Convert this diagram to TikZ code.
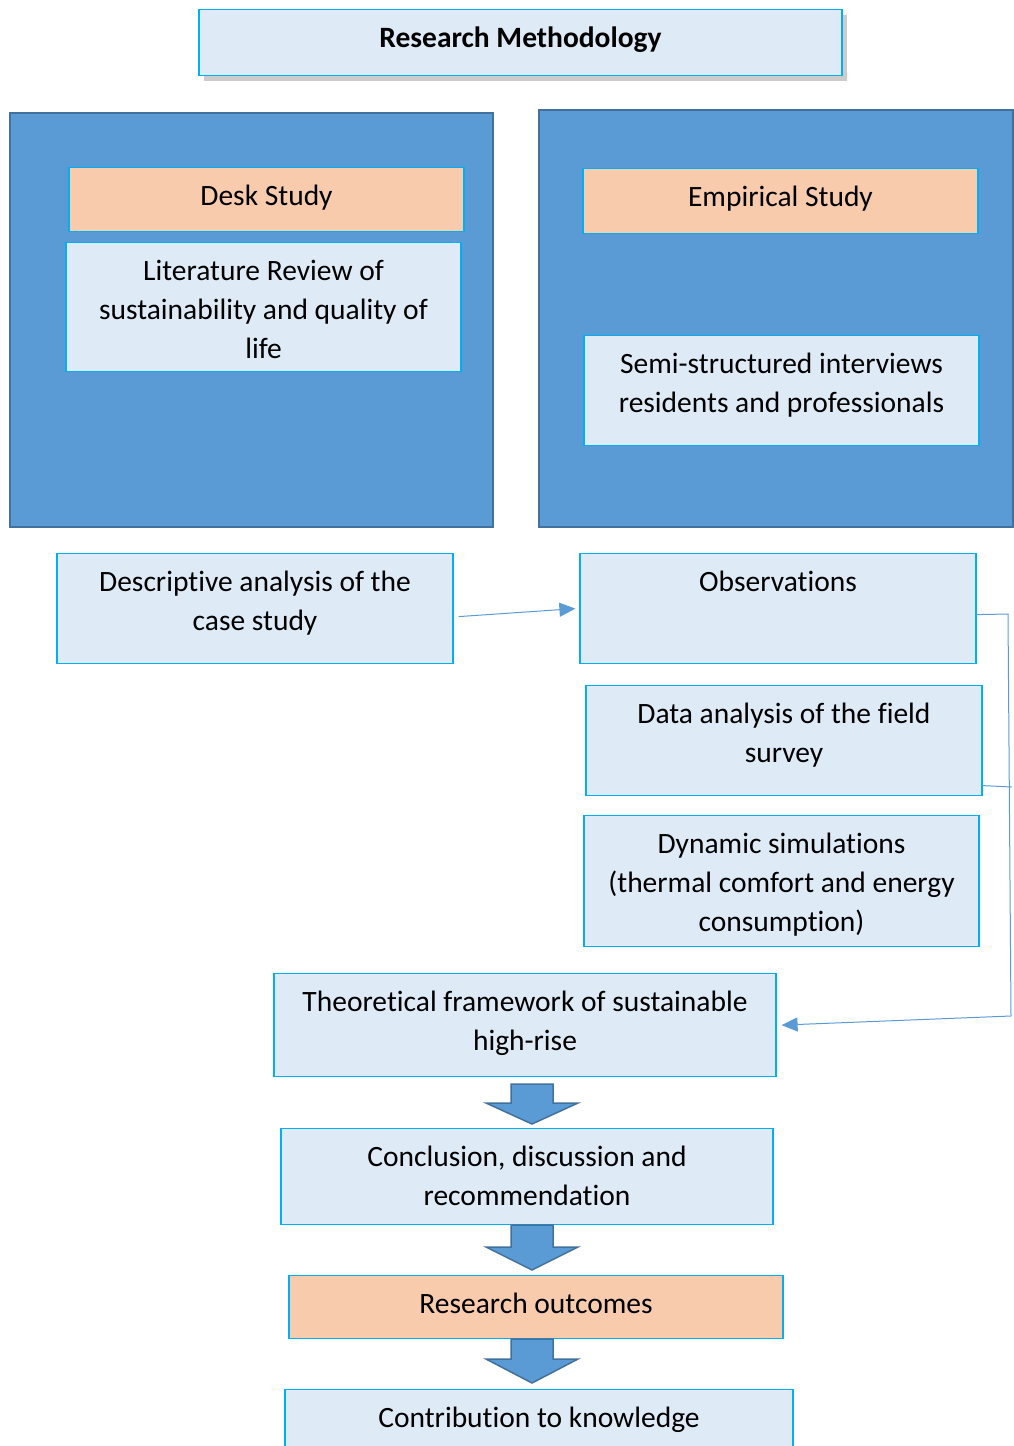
\documentclass[tikz,border=0pt]{standalone}
\usepackage{fontspec}
\setmainfont[Ligatures=NoCommon]{Carlito}
\usetikzlibrary{arrows.meta,shadows}
\definecolor{rmPanel}{HTML}{5B9BD5}
\definecolor{rmPanelEdge}{HTML}{41719C}
\definecolor{rmPale}{HTML}{DEEBF7}
\definecolor{rmPeach}{HTML}{F8CBAD}
\definecolor{rmEdge}{HTML}{00B0F0}
\newcommand\rmFont{\fontsize{29.5}{39}\selectfont}
\tikzset{rmPanelBox/.style={draw=rmPanelEdge,fill=rmPanel,line width=2pt,anchor=north,inner sep=0pt},
 rmPaleBox/.style={draw=rmEdge,fill=rmPale,line width=1.2pt,anchor=north,inner sep=0pt},
 rmPeachBox/.style={rmPaleBox,fill=rmPeach},
 rmText/.style={anchor=north,inner sep=0pt,align=center,font=\rmFont,yshift=-18pt},
 rmLink/.style={draw=rmPanel,line width=1pt},
 rmTip/.style={-{Triangle[length=16pt,width=14pt]}},
 rmBlock/.style={draw=rmPanelEdge,fill=rmPanel,line width=1.5pt}}

\begin{document}
\begin{tikzpicture}[x=1pt,y=-1pt]
\useasboundingbox (0,0) rectangle (1014,1446);
% title
\node[rmPaleBox,minimum width=643,minimum height=66,
 drop shadow={shadow xshift=5pt,shadow yshift=-5pt,fill=black!40,opacity=.5}] (title) at (520.5,9) {};
\node[rmText] (titleText) at (title.north) {\bfseries Research Methodology};
% the two study panels
\node[rmPanelBox,minimum width=483,minimum height=414] (deskPanel) at (251.5,112) {};
\node[rmPanelBox,minimum width=474,minimum height=417] (empPanel) at (776,109) {};
\node[rmPeachBox,minimum width=395,minimum height=64] (desk) at (266.5,167) {};
\node[rmText] (deskText) at (desk.north) {Desk Study};
\node[rmPaleBox,minimum width=395,minimum height=129] (lit) at (263.5,242) {};
\node[rmText] (litText) at (lit.north) {Literature Review of\\sustainability and quality of\\life};
\node[rmPeachBox,minimum width=395,minimum height=65] (emp) at (780.5,168) {};
\node[rmText] (empText) at (emp.north) {Empirical Study};
\node[rmPaleBox,minimum width=395,minimum height=110] (semi) at (781.5,335) {};
\node[rmText] (semiText) at (semi.north) {Semi-structured interviews\\residents and professionals};
% analysis steps
\node[rmPaleBox,minimum width=396,minimum height=110] (desc) at (255,553) {};
\node[rmText] (descText) at (desc.north) {Descriptive analysis of the\\case study};
\node[rmPaleBox,minimum width=396,minimum height=110] (obs) at (778,553) {};
\node[rmText] (obsText) at (obs.north) {Observations};
\node[rmPaleBox,minimum width=396,minimum height=110] (data) at (784,685) {};
\node[rmText] (dataText) at (data.north) {Data analysis of the field\\survey};
\node[rmPaleBox,minimum width=395,minimum height=131] (dyn) at (781.5,815) {};
\node[rmText] (dynText) at (dyn.north) {Dynamic simulations\\(thermal comfort and energy\\consumption)};
\node[rmPaleBox,minimum width=502,minimum height=103] (theo) at (525,973) {};
\node[rmText] (theoText) at (theo.north) {Theoretical framework of sustainable\\high-rise};
\node[rmPaleBox,minimum width=492,minimum height=96] (concl) at (527,1128) {};
\node[rmText] (conclText) at (concl.north) {Conclusion, discussion and\\recommendation};
\node[rmPeachBox,minimum width=494,minimum height=63] (outc) at (536,1275) {};
\node[rmText] (outcText) at (outc.north) {Research outcomes};
\node[rmPaleBox,minimum width=508,minimum height=62] (contr) at (539,1389) {};
\node[rmText] (contrText) at (contr.north) {Contribution to knowledge};
% connectors
\draw[rmLink,rmTip] ([xshift=5pt,yshift=-8pt]desc.east) -- ([xshift=-4pt]obs.west);
\coordinate (brTop) at (1008,614);
\coordinate (brMid) at (1012,787);
\coordinate (brBot) at (1011,1016);
\draw[rmLink] ([yshift=-6pt]obs.east) -- (brTop) -- (brBot);
\draw[rmLink] ([yshift=-45pt]data.east) -- (brMid);
\draw[rmLink,rmTip] (brBot) -- ([xshift=5pt]theo.east);
\foreach \tp/\bs/\tip in {1084/1103/1124,1225/1247/1270,1339/1359/1383}
 \draw[rmBlock] (511,\tp) -- (553,\tp) -- (553,\bs) -- (578,\bs) -- (532,\tip)
  -- (486,\bs) -- (511,\bs) -- cycle;
\end{tikzpicture}
\end{document}
